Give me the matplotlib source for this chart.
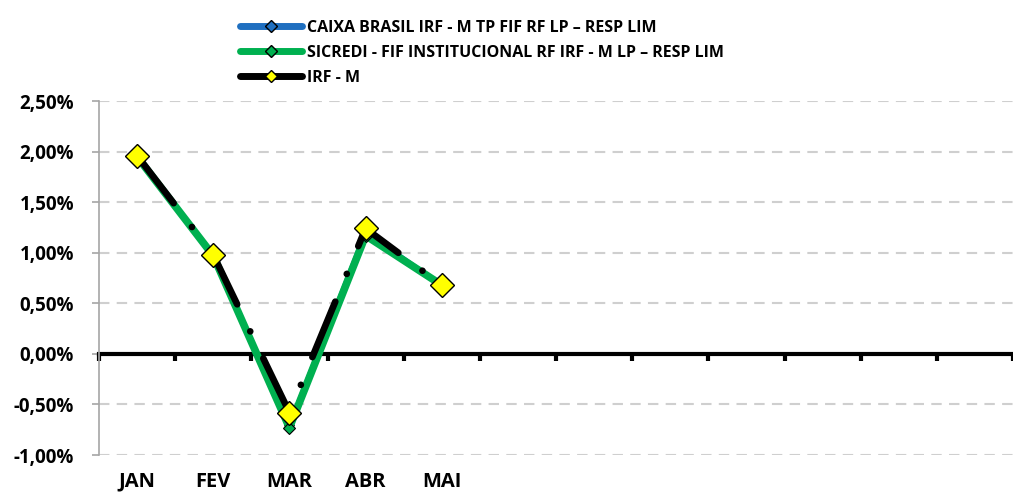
import matplotlib
matplotlib.use("Agg")
import matplotlib.pyplot as plt
from matplotlib.lines import Line2D
from matplotlib.ticker import FuncFormatter, FixedLocator

plt.rcParams["font.family"] = ["Open Sans", "DejaVu Sans"]
plt.rcParams["font.weight"] = "bold"

# =========================
# DATA
# =========================
months = ["JAN", "FEV", "MAR", "ABR", "MAI", "", "", "", "", "", "", ""]
caixa = [1.95, 0.97, -0.70, 1.21, 0.68]
sicredi = [1.95, 0.97, -0.73, 1.17, 0.68]
irfm = [1.96, 0.98, -0.58, 1.24, 0.68]

series_names = [
    "CAIXA BRASIL IRF - M TP FIF RF LP \u2013 RESP LIM",
    "SICREDI - FIF INSTITUCIONAL RF IRF - M LP \u2013 RESP LIM",
    "IRF - M",
]
y_ticks = [-1.0, -0.5, 0.0, 0.5, 1.0, 1.5, 2.0, 2.5]

blue = "#1f6fc0"
green = "#00b050"

# =========================
# FIGURE
# =========================
W, H = 1013, 499
fig = plt.figure(figsize=(W / 100, H / 100), dpi=100)
ax = fig.add_axes([99 / W, 1 - 455 / H, 1 - 99 / W, (455 - 101) / H])

x = list(range(len(caixa)))

ax.plot(x, caixa, color=blue, lw=3, marker="D", ms=5,
        mfc=blue, mec="black", mew=0.8, zorder=3)
ax.plot(x, sicredi, color=green, lw=5.5, marker="D", ms=6,
        mfc=green, mec="black", mew=0.8, zorder=4)
ax.plot(x, irfm, color="black", lw=4.8, linestyle=(0, (9, 4.5, 0.01, 4.5)),
        dash_capstyle="round", zorder=5)
ax.plot(x, irfm, linestyle="none", marker="D", ms=12,
        mfc="#ffff00", mec="black", mew=1, zorder=6)

ax.set_xlim(-0.5, len(months) - 0.5)
ax.set_ylim(y_ticks[0], y_ticks[-1])

# y axis
ax.yaxis.set_major_locator(FixedLocator(y_ticks))
ax.yaxis.set_major_formatter(
    FuncFormatter(lambda v, p: f"{v:.2f}".replace(".", ",") + "%"))
ax.grid(axis="y", color="#cfcfcf", lw=1.5, linestyle=(0, (5, 3.5)))
ax.set_axisbelow(True)
ax.tick_params(axis="y", length=5, width=1.2, color="#a6a6a6",
               labelsize=13.5, pad=13)
for lbl in ax.get_yticklabels():
    lbl.set_fontweight("bold")

for s in ["top", "right"]:
    ax.spines[s].set_visible(False)
ax.spines["left"].set_color("#a6a6a6")
ax.spines["left"].set_linewidth(1.2)

# zero line with category boundary ticks
ax.spines["bottom"].set_position(("data", 0))
ax.spines["bottom"].set_linewidth(3)
ax.spines["bottom"].set_color("black")
ax.spines["bottom"].set_zorder(2)
ax.set_xticks([i - 0.5 for i in range(len(months) + 1)])
ax.tick_params(axis="x", length=5, width=3, color="black",
               labelbottom=False, direction="out")

# category labels at bottom
sec = ax.secondary_xaxis("bottom")
sec.spines["bottom"].set_visible(False)
sec.set_xticks(range(len(months)))
sec.set_xticklabels(months, fontsize=14.5, fontweight="bold")
sec.tick_params(length=0, pad=12)

# legend
handles = [
    Line2D([], [], color=blue, lw=5, solid_capstyle="round", marker="D",
           ms=6, mfc=blue, mec="black", mew=1),
    Line2D([], [], color=green, lw=5, solid_capstyle="round", marker="D",
           ms=6, mfc=green, mec="black", mew=1),
    Line2D([], [], color="black", lw=5, solid_capstyle="round", marker="D",
           ms=6, mfc="#ffff00", mec="black", mew=1),
]
fig.legend(handles, series_names, loc="upper left",
           bbox_to_anchor=(240 / W, 1 - 20 / H), frameon=False,
           prop={"size": 11.5, "weight": "bold"}, handlelength=3.9,
           handletextpad=0.3, labelspacing=0.55, borderpad=0,
           borderaxespad=0)

fig.savefig("out.png", dpi=100)
